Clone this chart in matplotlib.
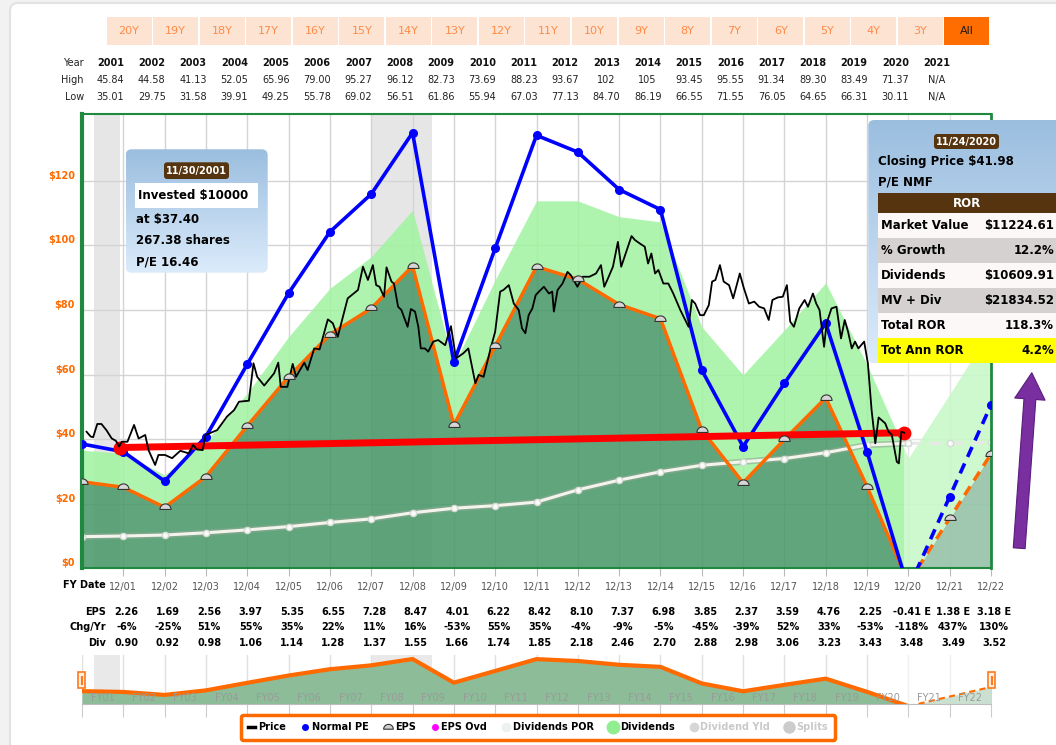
import numpy as np
import matplotlib
matplotlib.use("Agg")
import matplotlib.pyplot as plt
import matplotlib.transforms as mtransforms
import matplotlib.patheffects as pe
from matplotlib.patches import Rectangle, FancyBboxPatch, FancyArrowPatch
from matplotlib.lines import Line2D
from matplotlib.path import Path
from matplotlib.colors import LinearSegmentedColormap

plt.rcParams['font.family'] = ['DejaVu Sans']

# ---------------- data ----------------
# fiscal year ends 12/00 .. 12/22, x = position of the year end
fy_x = np.arange(2001, 2024)
fy_labels = ['12/01', '12/02', '12/03', '12/04', '12/05', '12/06', '12/07', '12/08',
             '12/09', '12/10', '12/11', '12/12', '12/13', '12/14', '12/15', '12/16',
             '12/17', '12/18', '12/19', '12/20', '12/21', '12/22']
fy_short = ['FY01', 'FY02', 'FY03', 'FY04', 'FY05', 'FY06', 'FY07', 'FY08', 'FY09', 'FY10',
            'FY11', 'FY12', 'FY13', 'FY14', 'FY15', 'FY16', 'FY17', 'FY18', 'FY19', 'FY20',
            'FY21', 'FY22']

# orange EPS line ($)
eps_line = np.array([26.8, 25.1, 18.9, 28.4, 44.1, 59.3, 72.4, 80.5, 93.6, 44.4, 68.8, 93.4,
                     89.5, 81.7, 77.3, 42.8, 26.5, 39.9, 52.8, 25.3, -4.5, 15.5, 35.4])
# blue normal PE line ($)
normal_pe = np.array([38.5, 36.1, 27.0, 40.8, 63.2, 85.2, 104.2, 115.9, 134.9, 63.8, 99.1, 134.1,
                      128.9, 117.3, 111.1, 61.4, 37.7, 57.3, 75.9, 36.1, -6.3, 22.2, 50.6])
# top of the light green dividends band ($)
div_top = np.array([36.6, 35.6, 28.9, 39.2, 54.2, 71.7, 86.7, 96.5, 110.9, 63.0, 89.3, 113.8,
                    113.8, 108.9, 107.3, 74.8, 59.9, 73.8, 88.4, 63.1, 34.1, 53.9, 74.1])
# white dividends POR line ($)
div_por = np.array([9.8, 10.0, 10.3, 11.0, 11.9, 12.9, 14.2, 15.3, 17.2, 18.6, 19.4, 20.5,
                    24.3, 27.3, 29.9, 31.9, 33.0, 34.0, 35.8, 38.2, 38.7, 38.7, 39.0])

# black price line (x, $)
price_points = [
    (2001.11, 42.3), (2001.21, 40.8), (2001.27, 40.6), (2001.37, 44.7), (2001.47, 44.7),
    (2001.59, 42.8), (2001.72, 40.2), (2001.82, 39.5), (2001.90, 37.7), (2001.96, 39.2),
    (2002.10, 39.2), (2002.26, 44.4), (2002.37, 40.2), (2002.53, 41.3), (2002.61, 36.6),
    (2002.77, 32.0), (2002.85, 35.1), (2003.01, 35.1), (2003.18, 34.1), (2003.38, 36.4),
    (2003.58, 35.6), (2003.69, 38.2), (2003.78, 36.8), (2003.92, 36.6), (2003.99, 41.3),
    (2004.27, 42.8), (2004.51, 47.0), (2004.68, 49.0), (2004.80, 51.6), (2005.04, 51.9),
    (2005.15, 63.5), (2005.24, 59.3), (2005.41, 56.6), (2005.65, 60.4), (2005.75, 63.7),
    (2005.81, 56.2), (2005.97, 56.2), (2006.10, 63.3), (2006.18, 59.3), (2006.38, 63.7),
    (2006.46, 61.4), (2006.62, 68.1), (2006.75, 67.8), (2006.95, 77.1), (2007.07, 75.9),
    (2007.19, 71.7), (2007.43, 83.6), (2007.68, 86.2), (2007.80, 93.4), (2007.92, 89.3),
    (2008.04, 93.9), (2008.12, 87.7), (2008.20, 87.2), (2008.31, 84.1), (2008.37, 93.2),
    (2008.49, 88.8), (2008.55, 88.2), (2008.65, 81.0), (2008.73, 80.0), (2008.88, 74.8),
    (2008.96, 80.3), (2009.06, 79.5), (2009.14, 74.8), (2009.20, 68.1), (2009.30, 68.1),
    (2009.38, 67.1), (2009.50, 70.2), (2009.62, 70.7), (2009.79, 69.1), (2009.93, 75.0),
    (2010.05, 65.0), (2010.23, 66.6), (2010.35, 68.1), (2010.52, 57.3), (2010.60, 59.9),
    (2010.72, 59.3), (2010.88, 67.6), (2011.00, 73.3), (2011.12, 85.7), (2011.20, 86.2),
    (2011.33, 87.7), (2011.45, 82.0), (2011.57, 80.0), (2011.65, 74.3), (2011.73, 72.8),
    (2011.81, 78.4), (2011.90, 80.5), (2011.98, 84.6), (2012.06, 85.7), (2012.18, 87.2),
    (2012.30, 85.1), (2012.38, 85.7), (2012.42, 79.5), (2012.51, 86.2), (2012.63, 88.2),
    (2012.75, 91.8), (2012.83, 90.8), (2012.99, 87.2), (2013.12, 90.3), (2013.28, 90.3),
    (2013.44, 91.3), (2013.56, 93.9), (2013.64, 87.2), (2013.73, 89.8), (2013.85, 93.4),
    (2013.97, 101.1), (2014.05, 93.4), (2014.17, 98.0), (2014.30, 102.9), (2014.38, 101.7),
    (2014.50, 100.6), (2014.62, 99.6), (2014.70, 94.4), (2014.78, 97.5), (2014.87, 91.3),
    (2014.95, 92.4), (2015.07, 88.2), (2015.19, 88.2), (2015.31, 85.1), (2015.48, 80.0),
    (2015.60, 76.9), (2015.68, 74.8), (2015.76, 83.1), (2015.84, 82.0), (2015.96, 78.4),
    (2016.05, 78.4), (2016.17, 81.5), (2016.25, 88.8), (2016.33, 89.3), (2016.44, 93.9),
    (2016.53, 88.8), (2016.66, 87.7), (2016.76, 83.6), (2016.92, 91.3), (2017.02, 86.7),
    (2017.14, 82.0), (2017.27, 82.6), (2017.39, 81.0), (2017.51, 80.5), (2017.62, 76.9),
    (2017.71, 83.1), (2017.84, 83.9), (2017.96, 84.1), (2018.06, 87.7), (2018.14, 76.4),
    (2018.23, 74.8), (2018.36, 80.5), (2018.49, 83.1), (2018.57, 81.0), (2018.69, 85.1),
    (2018.77, 82.0), (2018.85, 80.0), (2018.96, 68.6), (2019.02, 75.9), (2019.14, 80.5),
    (2019.26, 81.0), (2019.37, 71.2), (2019.46, 76.9), (2019.54, 73.3), (2019.63, 68.1),
    (2019.71, 70.2), (2019.79, 68.1), (2019.93, 70.2), (2020.02, 63.5), (2020.11, 49.0),
    (2020.20, 38.7), (2020.28, 46.7), (2020.44, 44.9), (2020.52, 42.3), (2020.60, 41.3),
    (2020.72, 33.0), (2020.77, 32.5), (2020.83, 42.3), (2020.90, 41.98),
]

invest_date, invest_price = 2001.91, 37.40     # 11/30/2001
close_date, close_price = 2020.90, 41.98       # 11/24/2020
recessions = [(2001.30, 2001.92), (2008.0, 2009.48)]

y_ticks = [0, 20, 40, 60, 80, 100, 120]
y_labels = ['$0', '$20', '$40', '$60', '$80', '$100', '$120']

# table above the chart
years = [2001, 2002, 2003, 2004, 2005, 2006, 2007, 2008, 2009, 2010, 2011,
         2012, 2013, 2014, 2015, 2016, 2017, 2018, 2019, 2020, 2021]
year_high = ['45.84', '44.58', '41.13', '52.05', '65.96', '79.00', '95.27', '96.12', '82.73',
             '73.69', '88.23', '93.67', '102', '105', '93.45', '95.55', '91.34', '89.30',
             '83.49', '71.37', 'N/A']
year_low = ['35.01', '29.75', '31.58', '39.91', '49.25', '55.78', '69.02', '56.51', '61.86',
            '55.94', '67.03', '77.13', '84.70', '86.19', '66.55', '71.55', '76.05', '64.65',
            '66.31', '30.11', 'N/A']

# table below the chart
eps = [2.26, 1.69, 2.56, 3.97, 5.35, 6.55, 7.28, 8.47, 4.01, 6.22, 8.42, 8.10, 7.37, 6.98,
       3.85, 2.37, 3.59, 4.76, 2.25, -0.41, 1.38, 3.18]
eps_est = [False] * 19 + [True] * 3
chg = ['-6%', '-25%', '51%', '55%', '35%', '22%', '11%', '16%', '-53%', '55%', '35%', '-4%',
       '-9%', '-5%', '-45%', '-39%', '52%', '33%', '-53%', '-118%', '437%', '130%']
divs = [0.90, 0.92, 0.98, 1.06, 1.14, 1.28, 1.37, 1.55, 1.66, 1.74, 1.85, 2.18, 2.46, 2.70,
        2.88, 2.98, 3.06, 3.23, 3.43, 3.48, 3.49, 3.52]

buttons = ['20Y', '19Y', '18Y', '17Y', '16Y', '15Y', '14Y', '13Y', '12Y', '11Y', '10Y',
           '9Y', '8Y', '7Y', '6Y', '5Y', '4Y', '3Y', 'All']

ror_labels = ['Market Value', '% Growth', 'Dividends', 'MV + Div', 'Total ROR', 'Tot Ann ROR']
ror_values = ['$11224.61', '12.2%', '$10609.91', '$21834.52', '118.3%', '4.2%']

legend_labels = ['Price', 'Normal PE', 'EPS', 'EPS Ovd', 'Dividends POR', 'Dividends',
                 'Dividend Yld', 'Splits']

# ---------------- figure ----------------
W, H = 1056, 745
fig = plt.figure(figsize=(W / 100, H / 100), dpi=100, facecolor='#f2f2f2')


def rect(x0, y0, x1, y1):
    # pixel box (top-left origin) -> figure fraction rect
    return [x0 / W, 1 - y1 / H, (x1 - x0) / W, (y1 - y0) / H]


# overlay in pixel coordinates for the page furniture
over = fig.add_axes([0, 0, 1, 1], zorder=10)
over.axis('off')
# white card behind everything
card_ax = fig.add_axes([0, 0, 1, 1], zorder=-1)
card_ax.axis('off')
card_ax.set_xlim(0, W)
card_ax.set_ylim(H, 0)
card_ax.add_patch(FancyBboxPatch((10, 3), 1100, 800, boxstyle='round,pad=0,rounding_size=8',
                                 fc='white', ec='#e2e2e2', lw=1.5))

ax = fig.add_axes(rect(82, 114, 991, 568.3))
ax2 = fig.add_axes(rect(82, 655, 991, 704))

solid = slice(0, 21)
dashed = slice(20, 23)

# half-dome marker used for EPS points
t = np.linspace(0, np.pi, 14)
dome_v = np.column_stack([np.cos(t), np.sin(t) - 0.35]).tolist() + [[1.0, -0.35]]
dome = Path(dome_v, closed=True)

# ---------------- main chart ----------------
for a, b in recessions:
    ax.axvspan(a, b, color='#e6e6e6', lw=0, zorder=0.2)
ax.fill_between(fy_x, 0, eps_line, color='#459665', alpha=0.85, lw=0, zorder=1)
ax.fill_between(fy_x, eps_line, div_top, color='#a0f3a0', alpha=0.85, lw=0, zorder=1.1)
ax.axvspan(close_date, 2023, color='white', alpha=0.4, lw=0, zorder=1.5)

ax.plot(fy_x[solid], div_por[solid], color='#f4f4ec', lw=2.2, zorder=2,
        path_effects=[pe.withStroke(linewidth=4.5, foreground='#8faa96', alpha=0.6)])
ax.plot(fy_x[dashed], div_por[dashed], color='#e8e8e8', lw=2.2, ls=(0, (4, 3)), zorder=2)
ax.plot(fy_x, div_por, ls='none', marker='o', ms=4.5, mfc='#fafafa', mec='#d4dcd4',
        zorder=2.1)

ax.plot(fy_x[solid], eps_line[solid], color='#ff6a00', lw=2.5, zorder=3)
ax.plot(fy_x[dashed], eps_line[dashed], color='#ff6a00', lw=2.5, ls=(0, (3, 2)), zorder=3)
pos = eps_line > 0
ax.plot(fy_x[pos], eps_line[pos], ls='none', marker=dome, ms=8, mfc='#d6d6d6', mec='#333333',
        mew=0.8, zorder=5)

ax.plot(fy_x[solid], normal_pe[solid], color='#0000ff', lw=2.6, zorder=3.5)
ax.plot(fy_x[dashed], normal_pe[dashed], color='#0000ff', lw=2.6, ls=(0, (3, 2)), zorder=3.5)
pos = normal_pe > 0
ax.plot(fy_x[pos], normal_pe[pos], ls='none', marker='o', ms=5.5, color='#0000ff', zorder=3.6)

ax.plot([invest_date, close_date], [invest_price, close_price], color='#ff0000', lw=5,
        marker='o', ms=9, zorder=4)
px, py = zip(*price_points)
ax.plot(px, py, color='black', lw=1.3, zorder=4.5)

ax.set_xlim(2001, 2023)
ax.set_ylim(0, 140.7)
ax.set_xticks(fy_x[1:])
ax.set_xticklabels(fy_labels)
ax.set_yticks(y_ticks)
ax.set_yticklabels(y_labels)
ax.grid(True, color='#d4d4d4', lw=1)
ax.set_axisbelow(True)
ax.tick_params(axis='x', length=6, color='#bbbbbb', pad=4, labelsize=7, labelcolor='#555555')
ax.tick_params(axis='y', length=0, pad=5, labelsize=7, labelcolor='#ff6a00')
shift = mtransforms.ScaledTranslation(0, 0.06, fig.dpi_scale_trans)
for lbl in ax.get_yticklabels():
    lbl.set_fontweight('bold')
    lbl.set_transform(lbl.get_transform() + shift)
for side, lw in [('left', 3), ('right', 2), ('top', 1.5), ('bottom', 1.5)]:
    ax.spines[side].set_color('#1f8a3f')
    ax.spines[side].set_linewidth(lw)

# ---------------- navigator chart ----------------
for a, b in recessions:
    ax2.axvspan(a, b, color='#e9e9e9', lw=0, zorder=0.2)
ax2.fill_between(fy_x, 0, eps_line, color='#8cbc98', lw=0, zorder=1)
ax2.axvspan(close_date, 2023, color='white', alpha=0.55, lw=0, zorder=1.5)
ax2.plot(fy_x[solid], eps_line[solid], color='#ff6a00', lw=3, zorder=3)
ax2.plot(fy_x[dashed], eps_line[dashed], color='#ff6a00', lw=1.5, ls=(0, (3, 2)), zorder=3)
ax2.set_xlim(2001, 2023)
ax2.set_ylim(0, 102)
ax2.set_xticks(fy_x)
ax2.set_xticklabels([])
ax2.set_yticks([])
ax2.grid(True, axis='x', color='#e0e0e0', lw=1)
ax2.set_axisbelow(True)
ax2.tick_params(axis='x', length=9, color='#cccccc')
for side in ['left', 'right', 'top']:
    ax2.spines[side].set_visible(False)
ax2.spines['bottom'].set_color('#bdbdbd')
for x, s in zip(fy_x[1:] - 0.5, fy_short):
    ax2.text(x, 0.13, s, transform=ax2.get_xaxis_transform(), ha='center', va='center',
             fontsize=7, color='#9a9a9a', zorder=4)

# ---------------- page furniture (pixel coordinates) ----------------
tx = mtransforms.blended_transform_factory(ax.transData, over.transData)

# range buttons
for i, s in enumerate(buttons):
    x0 = 106.5 + i * 46.55
    last = s == 'All'
    over.add_patch(Rectangle((x0, 17), 45, 28, fc='#ff6d00' if last else '#fde3d2', lw=0))
    over.text(x0 + 22.5, 31, s, ha='center', va='center', fontsize=8,
              color='#1a1a1a' if last else '#ff8a47')

# year / high / low table
for row, y in [('Year', 63.3), ('High', 80), ('Low', 96.7)]:
    over.text(84, y, row, ha='right', va='center', fontsize=7, color='#222222')
for i, yr in enumerate(years):
    cx = yr + 0.69
    over.text(cx, 63.3, str(yr), transform=tx, ha='center', va='center', fontsize=7,
              fontweight='bold', color='#111111')
    over.text(cx, 80, year_high[i], transform=tx, ha='center', va='center', fontsize=7,
              color='#222222')
    over.text(cx, 96.7, year_low[i], transform=tx, ha='center', va='center', fontsize=7,
              color='#222222')

# FY table under the chart
over.text(106, 585, 'FY Date', ha='right', va='center', fontsize=7, fontweight='bold')
for row, y in [('EPS', 611.7), ('Chg/Yr', 627), ('Div', 643)]:
    over.text(106, y, row, ha='right', va='center', fontsize=7, fontweight='bold')
for i, x in enumerate(fy_x[1:]):
    cx = x + 0.08
    e = '%.2f' % eps[i] + (' E' if eps_est[i] else '')
    over.text(cx, 611.7, e, transform=tx, ha='center', va='center', fontsize=7,
              fontweight='bold')
    over.text(cx, 627, chg[i], transform=tx, ha='center', va='center', fontsize=7,
              fontweight='bold')
    over.text(cx, 643, '%.2f' % divs[i], transform=tx, ha='center', va='center', fontsize=7,
              fontweight='bold')

# navigator handles
for hx in (78, 988):
    over.add_patch(Rectangle((hx, 672), 7, 16, fc='#fff1e6', ec='#ff7a1a', lw=1.2))
    over.plot([hx + 2.7, hx + 2.7], [676, 684], color='#ff7a1a', lw=0.8)
    over.plot([hx + 4.3, hx + 4.3], [676, 684], color='#ff7a1a', lw=0.8)

box_cmap = LinearSegmentedColormap.from_list('box', ['#9bbedf', '#dbebfb'])
grad = np.linspace(0, 1, 128).reshape(-1, 1)


def info_box(x0, y0, x1, y1):
    im = over.imshow(grad, extent=[x0, x1, y1, y0], cmap=box_cmap, aspect='auto', zorder=1,
                     interpolation='bilinear')
    clip = FancyBboxPatch((x0, y0), x1 - x0, y1 - y0, boxstyle='round,pad=0,rounding_size=6',
                          fc='none', ec='none', transform=over.transData)
    over.add_patch(clip)
    im.set_clip_path(clip)


def date_tag(x0, y0, x1, y1, s):
    over.add_patch(FancyBboxPatch((x0, y0), x1 - x0, y1 - y0,
                                  boxstyle='round,pad=0,rounding_size=3', fc='#56340f',
                                  ec='none', zorder=2))
    over.text((x0 + x1) / 2, (y0 + y1) / 2 + 0.5, s, ha='center', va='center', fontsize=7,
              fontweight='bold', color='white', zorder=3)


# left box: purchase
info_box(125.7, 149.3, 267.7, 272.7)
date_tag(164, 162.3, 229, 179, '11/30/2001')
over.add_patch(Rectangle((135, 182.7), 122.7, 25, fc='white', lw=0, zorder=2))
over.text(137.5, 195.5, 'Invested $10000', ha='left', va='center', fontsize=8.5,
          fontweight='bold', zorder=3)
for s, y in [('at $37.40', 220), ('267.38 shares', 241), ('P/E 16.46', 261.7)]:
    over.text(135.7, y, s, ha='left', va='center', fontsize=8.5, fontweight='bold', zorder=3)

# right box: result
info_box(868.3, 120, 1075, 363.3)
date_tag(934, 134, 999, 149, '11/24/2020')
over.text(878.3, 161, 'Closing Price $41.98', ha='left', va='center', fontsize=8.5,
          fontweight='bold', zorder=3)
over.text(878.3, 181.7, 'P/E NMF', ha='left', va='center', fontsize=8.5, fontweight='bold',
          zorder=3)
over.add_patch(Rectangle((878.3, 193.3), 190, 20, fc='#56340f', lw=0, zorder=2))
over.text(967, 203.5, 'ROR', ha='center', va='center', fontsize=8.5, fontweight='bold',
          color='white', zorder=3)
row_bg = ['#fcf8f8', '#d5d1d1', '#fcf8f8', '#d5d1d1', '#fcf8f8', '#ffff00']
for i, (lab, val) in enumerate(zip(ror_labels, ror_values)):
    y0 = 213.3 + i * 25
    over.add_patch(Rectangle((878.3, y0), 190, 25, fc=row_bg[i], lw=0, zorder=2))
    over.text(881, y0 + 12.5, lab, ha='left', va='center', fontsize=8.5, fontweight='bold',
              zorder=3)
    over.text(1054, y0 + 12.5, val, ha='right', va='center', fontsize=8.5, fontweight='bold',
              zorder=3)

# purple arrow
over.add_patch(FancyArrowPatch((1019, 551), (1032, 370),
                               arrowstyle='simple,head_length=1.0,head_width=1.15,tail_width=0.45',
                               mutation_scale=19, fc='#7a2fa0', ec='#5a1d7d', lw=0.8, zorder=2))

over.set_xlim(0, W)
over.set_ylim(H, 0)

# legend
handles = [
    Line2D([], [], color='black', lw=2.5),
    Line2D([], [], ls='none', marker='o', ms=4, color='#0000ff'),
    Line2D([], [], ls='none', marker=dome, ms=7, mfc='#d0d0d0', mec='#333333', mew=0.8),
    Line2D([], [], ls='none', marker='o', ms=4, color='#ff00ff'),
    Line2D([], [], ls='none', marker='o', ms=6, color='#eef2ee'),
    Line2D([], [], ls='none', marker='o', ms=9, color='#90ee90'),
    Line2D([], [], ls='none', marker='o', ms=6, color='#d6d6d6'),
    Line2D([], [], ls='none', marker='o', ms=8, color='#cccccc'),
]
leg = fig.legend(handles, legend_labels, loc='center', bbox_to_anchor=(538 / W, 1 - 727.5 / H),
                 ncol=8, prop={'weight': 'bold', 'size': 7}, handlelength=0.7,
                 handletextpad=0.35, columnspacing=1.6, borderpad=0.8, frameon=True,
                 fancybox=True, framealpha=1, edgecolor='#ff6a00', facecolor='white')
leg.get_frame().set_linewidth(2.5)
for txt in leg.get_texts()[6:]:
    txt.set_color('#c9c9c9')

fig.savefig('out.png', dpi=100, facecolor=fig.get_facecolor())
